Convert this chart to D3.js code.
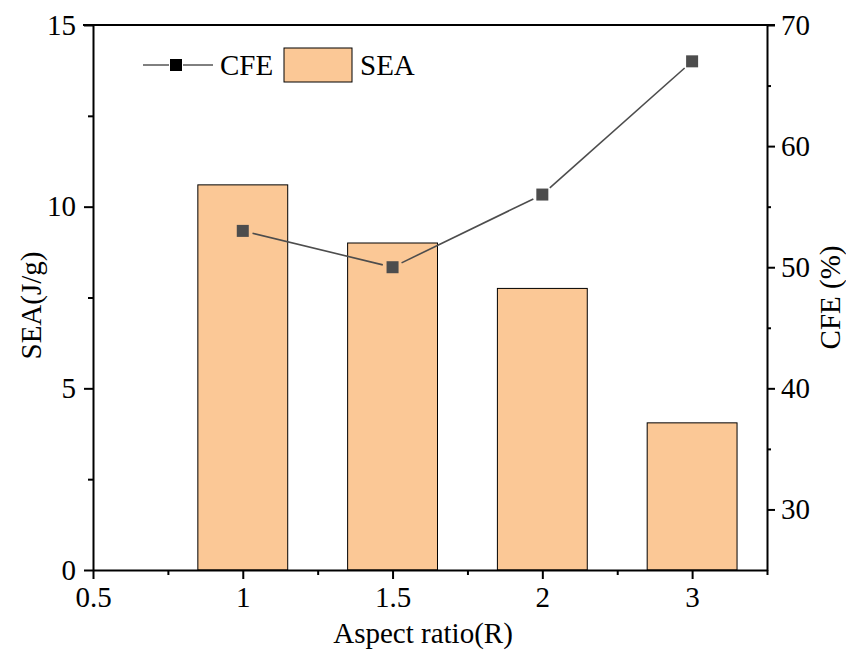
<!DOCTYPE html>
<html>
<head>
<meta charset="utf-8">
<script src="https://cdn.jsdelivr.net/npm/d3@7"></script>
<style>
  body { margin: 0; background: #fff; }
</style>
</head>
<body>
<div id="chart"></div>
<script>
var categories = ['0.5', '1', '1.5', '2', '3'];
var barCats = ['1', '1.5', '2', '3'];
var seaValues = [10.6, 9.0, 7.75, 4.05];
var cfeValues = [53, 50, 56, 67];
var leftTicks = [0, 5, 10, 15];
var rightTicks = [30, 40, 50, 60, 70];

var FONT = '"Liberation Serif", "Times New Roman", Times, serif';
var width = 846, height = 653;
var margin = {top: 25, right: 79, bottom: 83, left: 93};
var plotW = width - margin.left - margin.right;
var plotH = height - margin.top - margin.bottom;

var svg = d3.select('#chart').append('svg')
  .attr('width', width)
  .attr('height', height);

var g = svg.append('g').attr('transform', 'translate(' + margin.left + ',' + margin.top + ')');

// x is an index scale so that categories sit evenly
var x = d3.scaleLinear().domain([0, 4.5]).range([0, plotW]);
var y = d3.scaleLinear().domain([0, 15]).range([plotH, 0]);
var y2 = d3.scaleLinear().domain([25, 70]).range([plotH, 0]);
function xPos(c) { return x(categories.indexOf(c)); }

var barW = x(0.6) - x(0);

// bars
g.selectAll('rect.bar')
  .data(barCats)
  .enter()
  .append('rect')
  .attr('class', 'bar')
  .attr('x', function(d) { return xPos(d) - barW / 2; })
  .attr('y', function(d, i) { return y(seaValues[i]); })
  .attr('width', barW)
  .attr('height', function(d, i) { return plotH - y(seaValues[i]); })
  .attr('fill', '#fbc896')
  .attr('stroke', '#000')
  .attr('stroke-width', 1);

// CFE line with small gaps next to markers
var pts = barCats.map(function(d, i) { return [xPos(d), y2(cfeValues[i])]; });
var gap = 10;
for (var i = 0; i < pts.length - 1; i++) {
  var a = pts[i], b = pts[i + 1];
  var dx = b[0] - a[0], dy = b[1] - a[1];
  var len = Math.sqrt(dx * dx + dy * dy);
  g.append('line')
    .attr('x1', a[0] + dx / len * gap)
    .attr('y1', a[1] + dy / len * gap)
    .attr('x2', b[0] - dx / len * gap)
    .attr('y2', b[1] - dy / len * gap)
    .attr('stroke', '#4d4d4d')
    .attr('stroke-width', 1.6);
}
var ms = 12;
g.selectAll('rect.marker')
  .data(pts)
  .enter()
  .append('rect')
  .attr('class', 'marker')
  .attr('x', function(d) { return d[0] - ms / 2; })
  .attr('y', function(d) { return d[1] - ms / 2; })
  .attr('width', ms)
  .attr('height', ms)
  .attr('fill', '#4d4d4d');

// axes
function styleAxis(sel) {
  sel.attr('font-family', null).attr('font-size', null);
  sel.select('.domain').attr('stroke-width', 2).attr('stroke', '#000');
  sel.selectAll('.tick line').attr('stroke-width', 2).attr('stroke', '#000');
  sel.selectAll('text').style('font-family', FONT).style('font-size', '29px').attr('fill', '#000');
}
function minor(s) { s.select('.domain').remove(); s.selectAll('line').attr('stroke-width', 2); }

var xAxis = g.append('g')
  .attr('transform', 'translate(0,' + plotH + ')')
  .call(d3.axisBottom(x).tickValues([0, 1, 2, 3, 4]).tickSize(9).tickPadding(7)
    .tickFormat(function(d) { return categories[d]; }).tickSizeOuter(0));
styleAxis(xAxis);
g.append('g')
  .attr('transform', 'translate(0,' + plotH + ')')
  .call(d3.axisBottom(x).tickValues([0.5, 1.5, 2.5, 3.5, 4.5]).tickSize(5).tickFormat('').tickSizeOuter(0))
  .call(minor);

var yAxis = g.append('g')
  .call(d3.axisLeft(y).tickValues(leftTicks).tickSize(9).tickPadding(8).tickSizeOuter(0));
styleAxis(yAxis);
g.append('g')
  .call(d3.axisLeft(y).tickValues([2.5, 7.5, 12.5]).tickSize(5).tickFormat('').tickSizeOuter(0))
  .call(minor);

var y2Axis = g.append('g')
  .attr('transform', 'translate(' + plotW + ',0)')
  .call(d3.axisRight(y2).tickValues(rightTicks).tickSize(8).tickPadding(6).tickSizeOuter(0));
styleAxis(y2Axis);
g.append('g')
  .attr('transform', 'translate(' + plotW + ',0)')
  .call(d3.axisRight(y2).tickValues([35, 45, 55, 65]).tickSize(4).tickFormat('').tickSizeOuter(0))
  .call(minor);

// top frame line
g.append('line')
  .attr('x1', -10).attr('x2', plotW + 8)
  .attr('y1', 0).attr('y2', 0)
  .attr('stroke', '#000').attr('stroke-width', 2);

// axis titles
function title(sel) { return sel.style('font-family', FONT).style('font-size', '29px').attr('text-anchor', 'middle'); }

g.append('text')
  .attr('x', plotW / 2 - 7)
  .attr('y', plotH + 73)
  .call(title)
  .text('Aspect ratio(R)');

svg.append('text')
  .attr('transform', 'translate(41,' + (margin.top + plotH / 2 + 8) + ') rotate(-90)')
  .call(title)
  .text('SEA(J/g)');

svg.append('text')
  .attr('transform', 'translate(840,' + (margin.top + plotH / 2) + ') rotate(-90)')
  .call(title)
  .text('CFE (%)');

// legend
var lg = svg.append('g').attr('transform', 'translate(143,65)');
lg.append('line').attr('x1', 0).attr('x2', 26).attr('y1', 0).attr('y2', 0)
  .attr('stroke', '#000').attr('stroke-width', 1);
lg.append('line').attr('x1', 40).attr('x2', 70).attr('y1', 0).attr('y2', 0)
  .attr('stroke', '#000').attr('stroke-width', 1);
lg.append('rect').attr('x', 27).attr('y', -6).attr('width', 12).attr('height', 12).attr('fill', '#000');
lg.append('text').attr('x', 77).attr('y', 10).style('font-family', FONT).style('font-size', '29px').text('CFE');
lg.append('rect').attr('x', 141).attr('y', -17).attr('width', 68).attr('height', 34)
  .attr('fill', '#fbc896').attr('stroke', '#000').attr('stroke-width', 1);
lg.append('text').attr('x', 217).attr('y', 10).style('font-family', FONT).style('font-size', '29px').text('SEA');
</script>
</body>
</html>
